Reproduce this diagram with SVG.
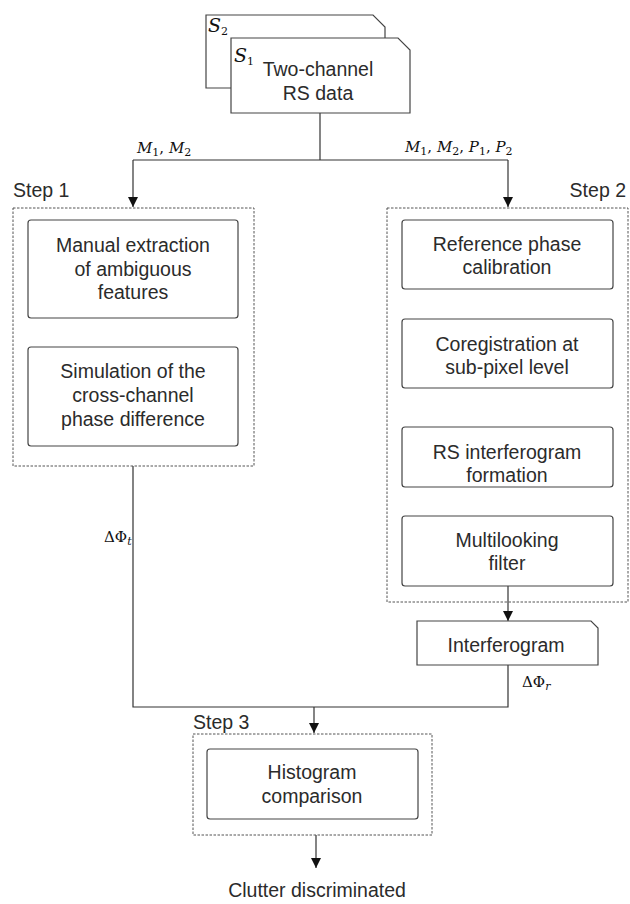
<svg xmlns="http://www.w3.org/2000/svg" width="630" height="904" viewBox="0 0 630 904">
  <style>
    .card { fill: #fff; stroke: #444; stroke-width: 1.2; }
    .box { fill: #fff; stroke: #444; stroke-width: 1.2; }
    .step { fill: none; stroke: #555; stroke-width: 1; stroke-dasharray: 2.5 1.5; }
    .wire { fill: none; stroke: #333; stroke-width: 1.2; }
    .lbl { font-family: "Liberation Sans", Arial, sans-serif; font-size: 19.5px; fill: #2b2b2b; }
    .mid { text-anchor: middle; }
    .math { font-family: "DejaVu Serif", "Liberation Serif", serif; font-size: 15px; fill: #111; }
    .it { font-style: italic; }
    .sub { font-size: 11px; }
  </style>
  <defs>
    <marker id="arrow" viewBox="0 0 10 10" refX="10" refY="5" markerWidth="10" markerHeight="10" markerUnits="userSpaceOnUse" orient="auto">
      <path d="M0,0 L10,5 L0,10 Z" fill="#111"/>
    </marker>
  </defs>

  <!-- connectors -->
  <g id="connectors">
    <path class="wire" d="M320,113 V160"/>
    <path class="wire" d="M133,160 H508"/>
    <path class="wire" d="M133,160 V207" marker-end="url(#arrow)"/>
    <path class="wire" d="M508,160 V207" marker-end="url(#arrow)"/>
    <path class="wire" d="M508,586 V621" marker-end="url(#arrow)"/>
    <path class="wire" d="M133,466 V707 H508 V665"/>
    <path class="wire" d="M314,707 V733" marker-end="url(#arrow)"/>
    <path class="wire" d="M316,835 V868" marker-end="url(#arrow)"/>
  </g>

  <!-- edge labels -->
  <g id="edge-labels">
    <text class="math" x="137" y="153"><tspan class="it">M</tspan><tspan class="sub" dy="3">1</tspan><tspan dy="-3">, </tspan><tspan class="it">M</tspan><tspan class="sub" dy="3">2</tspan></text>
    <text class="math" x="405" y="152"><tspan class="it">M</tspan><tspan class="sub" dy="3">1</tspan><tspan dy="-3">, </tspan><tspan class="it">M</tspan><tspan class="sub" dy="3">2</tspan><tspan dy="-3">, </tspan><tspan class="it">P</tspan><tspan class="sub" dy="3">1</tspan><tspan dy="-3">, </tspan><tspan class="it">P</tspan><tspan class="sub" dy="3">2</tspan></text>
    <text class="math" x="104" y="542" font-size="16">ΔΦ<tspan class="sub it" dy="3">t</tspan></text>
    <text class="math" x="522" y="687" font-size="16">ΔΦ<tspan class="sub it" dy="3">r</tspan></text>
  </g>

  <!-- input data: two stacked channel cards -->
  <g id="input-data">
    <path class="card" d="M206,15 H373 L385,27 V88 H206 Z"/>
    <text class="math" x="208" y="32"><tspan class="it" font-size="19">S</tspan><tspan class="sub" dy="3">2</tspan></text>
    <path class="card" d="M231,38 H398 L410,50 V113 H231 Z"/>
    <text class="math" x="234" y="62"><tspan class="it" font-size="19">S</tspan><tspan class="sub" dy="3">1</tspan></text>
    <text class="lbl mid" x="318" y="76">Two-channel</text>
    <text class="lbl mid" x="318" y="100">RS data</text>
  </g>

  <!-- step 1 -->
  <g id="step1">
    <rect class="step" x="13" y="208" width="241" height="258"/>
    <text class="lbl" x="13" y="197">Step 1</text>
  </g>
  <g id="manual-extraction">
    <rect class="box" x="28" y="220" width="210" height="98" rx="3"/>
    <text class="lbl mid" x="133" y="252">Manual extraction</text>
    <text class="lbl mid" x="133" y="276">of ambiguous</text>
    <text class="lbl mid" x="133" y="299">features</text>
  </g>
  <g id="phase-simulation">
    <rect class="box" x="28" y="347" width="210" height="99" rx="3"/>
    <text class="lbl mid" x="133" y="378">Simulation of the</text>
    <text class="lbl mid" x="133" y="402">cross-channel</text>
    <text class="lbl mid" x="133" y="426">phase difference</text>
  </g>

  <!-- step 2 -->
  <g id="step2">
    <rect class="step" x="387" y="208" width="241" height="394"/>
    <text class="lbl" x="626" y="197" text-anchor="end">Step 2</text>
  </g>
  <g id="reference-phase">
    <rect class="box" x="402" y="220" width="211" height="69" rx="3"/>
    <text class="lbl mid" x="507" y="251">Reference phase</text>
    <text class="lbl mid" x="507" y="274">calibration</text>
  </g>
  <g id="coregistration">
    <rect class="box" x="402" y="319" width="211" height="69" rx="3"/>
    <text class="lbl mid" x="507" y="351">Coregistration at</text>
    <text class="lbl mid" x="507" y="374">sub-pixel level</text>
  </g>
  <g id="interferogram-formation">
    <rect class="box" x="402" y="427" width="211" height="60" rx="3"/>
    <text class="lbl mid" x="507" y="459">RS interferogram</text>
    <text class="lbl mid" x="507" y="482">formation</text>
  </g>
  <g id="multilooking">
    <rect class="box" x="402" y="516" width="211" height="70" rx="3"/>
    <text class="lbl mid" x="507" y="547">Multilooking</text>
    <text class="lbl mid" x="507" y="570">filter</text>
  </g>

  <!-- interferogram product -->
  <g id="interferogram">
    <path class="card" d="M417,621 H591 L598,628 V665 H417 Z"/>
    <text class="lbl mid" x="506" y="652">Interferogram</text>
  </g>

  <!-- step 3 -->
  <g id="step3">
    <rect class="step" x="193" y="734" width="239" height="101"/>
    <text class="lbl" x="193" y="729">Step 3</text>
  </g>
  <g id="histogram">
    <rect class="box" x="207" y="749" width="211" height="70" rx="3"/>
    <text class="lbl mid" x="312" y="779">Histogram</text>
    <text class="lbl mid" x="312" y="803">comparison</text>
  </g>

  <!-- output -->
  <g id="output">
    <text class="lbl mid" x="317" y="897">Clutter discriminated</text>
  </g>
</svg>
